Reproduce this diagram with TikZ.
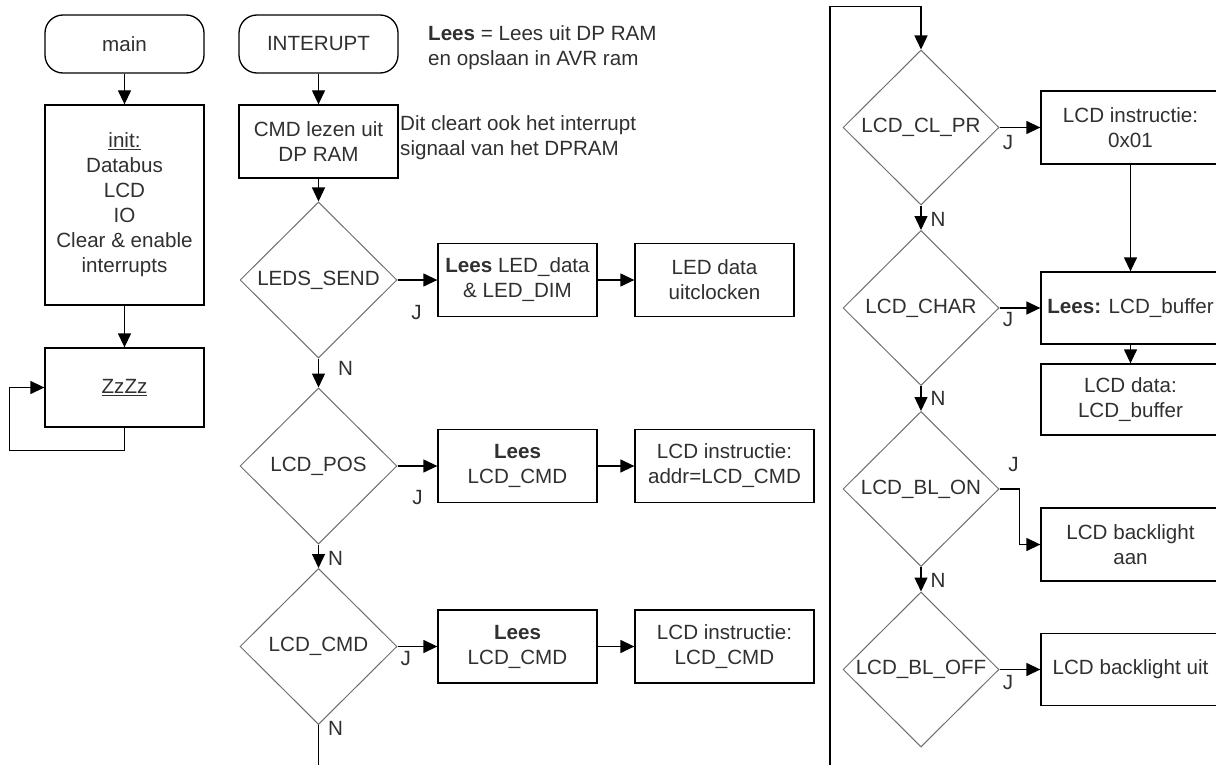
\documentclass[tikz,border=0pt]{standalone}
\usepackage{fontspec}
\setmainfont{Liberation Sans}
\usetikzlibrary{arrows.meta,shapes.geometric}
\definecolor{txt}{HTML}{303030}
\definecolor{dgray}{HTML}{6E6E6E}

\begin{document}
\begin{tikzpicture}[x=1pt, y=-1pt, >={Triangle[length=14pt,width=13pt]},
font=\fontsize{20.6}{25}\selectfont,
term/.style={draw, line width=1.3pt, rounded corners=18pt, minimum width=159pt, minimum height=58pt, inner sep=0pt, text=txt, align=center},
box/.style={draw, line width=1.3pt, minimum width=159pt, minimum height=73pt, inner sep=0pt, text=txt, align=center},
wbox/.style={box, minimum width=179pt},
decide/.style={draw=dgray, line width=1pt, diamond, aspect=1, minimum width=157pt, minimum height=156pt, inner sep=0pt, text=txt},
note/.style={anchor=north west, inner sep=0pt, align=left, text=txt},
lbl/.style={inner sep=0pt, text=txt},
flow/.style={->, line width=1.3pt}]
\useasboundingbox (0,0) rectangle (1216,765);

% main loop
\node[term] (main) at (124.5,44) {main};
\node[box, minimum height=200pt] (init) at (124.5,205) {\underline{init:}\\Databus\\LCD\\IO\\Clear \& enable\\interrupts};
\node[box, minimum height=79pt] (sleep) at (124.5,387.5) {\underline{ZzZz}};
\draw[flow] (main) -- (init);
\draw[flow] (init) -- (sleep);
\draw[flow] (sleep.south) -- ++(0,23) -| ([xshift=-35pt]sleep.west) -- (sleep.west);

% interrupt, first column
\node[term] (isr) at (318.5,44) {INTERUPT};
\node[note] (leesnote) at (428,25) {\textbf{Lees} = Lees uit DP RAM\\en opslaan in AVR ram};
\node[box] (rdcmd) at (318.5,141.5) {CMD lezen uit\\DP RAM};
\node[note] (dpnote) at (400,115) {Dit cleart ook het interrupt\\signaal van het DPRAM};
\node[decide] (ledsend) at (318.5,280) {LEDS\_SEND};
\node[box] (ledlees) at (517.5,280) {\textbf{Lees} LED\_data\\\& LED\_DIM};
\node[box] (ledout) at (714.5,280) {LED data\\uitclocken};
\node[decide] (lcdpos) at (318.5,466) {LCD\_POS};
\node[box] (poslees) at (517.5,466) {\textbf{Lees}\\LCD\_CMD};
\node[wbox] (posinstr) at (724.5,466) {LCD instructie:\\addr=LCD\_CMD};
\node[decide] (lcdcmd) at (318.5,646.5) {LCD\_CMD};
\node[box] (cmdlees) at (517.5,646.5) {\textbf{Lees}\\LCD\_CMD};
\node[wbox] (cmdinstr) at (724.5,646.5) {LCD instructie:\\LCD\_CMD};
\coordinate (midout) at (318.5,770);

\draw[flow] (isr) -- (rdcmd);
\draw[flow] (rdcmd) -- (ledsend);
\draw[flow] (ledsend.east) -- node[lbl, pos=0.48, yshift=-33pt] {J} (ledlees.west);
\draw[flow] (ledlees) -- (ledout);
\draw[flow] (ledsend.south) -- node[lbl, pos=0.33, xshift=27pt] {N} (lcdpos.north);
\draw[flow] (lcdpos.east) -- node[lbl, pos=0.5, yshift=-32pt] {J} (poslees.west);
\draw[flow] (poslees) -- (posinstr);
\draw[flow] (lcdpos.south) -- node[lbl, pos=0.6, xshift=17pt] {N} (lcdcmd.north);
\draw[flow] (lcdcmd.east) -- node[lbl, pos=0.21, yshift=-12pt] {J} (cmdlees.west);
\draw[flow] (cmdlees) -- (cmdinstr);
\draw[line width=1.3pt] (lcdcmd.south) -- node[lbl, pos=0.065, xshift=17pt] {N} (midout);

% second column
\coordinate (rightin) at (830,770);
\node[decide, minimum width=156pt, minimum height=155pt] (clpr) at (921,127.5) {LCD\_CL\_PR};
\node[wbox] (clrinstr) at (1130.5,127.5) {LCD instructie:\\0x01};
\node[decide, minimum width=156pt, minimum height=155pt] (lcdchar) at (921,308) {LCD\_CHAR};
\node[wbox, minimum height=72pt] (charlees) at (1130.5,308) {\textbf{Lees:} LCD\_buffer};
\node[wbox, minimum height=71pt] (chardata) at (1130.5,399.5) {LCD data:\\LCD\_buffer};
\node[decide, minimum width=156pt, minimum height=155pt] (blon) at (921,489) {LCD\_BL\_ON};
\node[wbox] (blaan) at (1130.5,544.5) {LCD backlight\\aan};
\node[decide, minimum width=156pt, minimum height=155pt] (bloff) at (921,669.5) {LCD\_BL\_OFF};
\node[wbox, minimum height=72pt] (bluit) at (1130.5,669.5) {LCD backlight uit};

\draw[flow] (rightin) |- ([yshift=43pt]clpr.north) -- (clpr.north);
\draw[flow] (clpr.east) -- node[lbl, pos=0.21, yshift=-15.5pt] {J} (clrinstr.west);
\draw[flow] (clrinstr) -- (charlees);
\draw[flow] (clpr.south) -- node[lbl, pos=0.56, xshift=17pt] {N} (lcdchar.north);
\draw[flow] (lcdchar.east) -- node[lbl, pos=0.21, yshift=-12pt] {J} (charlees.west);
\draw[flow] (charlees) -- (chardata);
\draw[flow] (lcdchar.south) -- node[lbl, pos=0.5, xshift=17pt] {N} (blon.north);
\draw[flow] (blon.east) -- node[lbl, pos=0.7, yshift=24pt] {J} ++(20,0) |- (blaan.west);
\draw[flow] (blon.south) -- node[lbl, pos=0.54, xshift=17pt] {N} (bloff.north);
\draw[flow] (bloff.east) -- node[lbl, pos=0.21, yshift=-13pt] {J} (bluit.west);
\end{tikzpicture}
\end{document}
